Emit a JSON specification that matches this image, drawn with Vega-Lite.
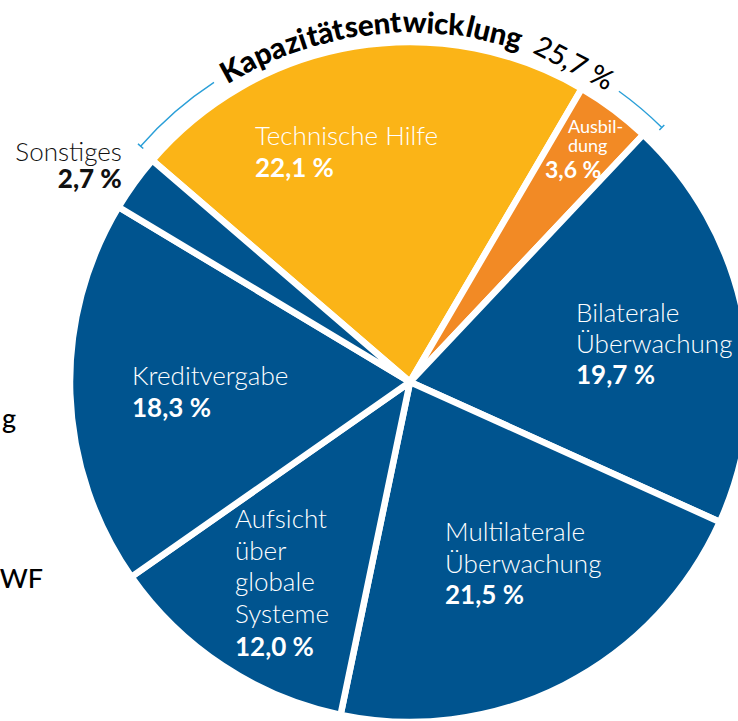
{
  "$schema": "https://vega.github.io/schema/vega-lite/v6.json",
  "width": 820,
  "height": 764,
  "padding": 0,
  "autosize": {"type": "none"},
  "background": "white",
  "config": {"view": {"stroke": null}, "font": "Lato"},
  "layer": [
    {
      "data": {
        "values": [
          {"idx": 1, "name": "Technische Hilfe", "label": "Technische Hilfe", "value": 22.1},
          {"idx": 2, "name": "Ausbildung", "label": "Ausbil-\ndung", "value": 3.6},
          {"idx": 3, "name": "Bilaterale Überwachung", "label": "Bilaterale\nÜberwachung", "value": 19.7},
          {"idx": 4, "name": "Multilaterale Überwachung", "label": "Multilaterale\nÜberwachung", "value": 21.5},
          {"idx": 5, "name": "Aufsicht über globale Systeme", "label": "Aufsicht\nüber\nglobale\nSysteme", "value": 12.0},
          {"idx": 6, "name": "Kreditvergabe", "label": "Kreditvergabe", "value": 18.3},
          {"idx": 7, "name": "Sonstiges", "label": "Sonstiges", "value": 2.7}
        ]
      },
      "transform": [
        {"stack": "value", "groupby": [], "sort": [{"field": "idx", "order": "ascending"}], "as": ["v0", "v1"]},
        {"calculate": "(datum.v0 + datum.v1) / 2", "as": "vmid"},
        {"calculate": "replace(format(datum.value, '.1f'), '.', ',') + ' %'", "as": "pct"}
      ],
      "layer": [
        {
          "mark": {"type": "arc", "radius": 340, "stroke": "white", "strokeWidth": 6.5, "strokeJoin": "round"},
          "encoding": {
            "theta": {"field": "v0", "type": "quantitative", "scale": {"domain": [0, 99.9], "range": [-0.8604, 5.4228]}},
            "theta2": {"field": "v1"},
            "color": {
              "field": "name", "type": "nominal", "legend": null,
              "scale": {
                "domain": ["Technische Hilfe", "Ausbildung", "Bilaterale Überwachung", "Multilaterale Überwachung", "Aufsicht über globale Systeme", "Kreditvergabe", "Sonstiges"],
                "range": ["#fbb417", "#f28a25", "#00548f", "#00548f", "#00548f", "#00548f", "#00548f"]
              }
            }
          }
        },
        {
          "transform": [{"filter": "datum.idx == 1"}],
          "mark": {"type": "text", "radius": 220, "dx": -118.8, "dy": -20, "align": "left", "baseline": "alphabetic", "fontSize": 26, "fontWeight": 300, "color": "white", "lineBreak": "\n", "lineHeight": 31.5},
          "encoding": {"theta": {"field": "vmid", "type": "quantitative", "scale": {"domain": [0, 99.9], "range": [-0.8604, 5.4228]}}, "text": {"field": "label"}}
        },
        {
          "transform": [{"filter": "datum.idx == 1"}],
          "mark": {"type": "text", "radius": 220, "dx": -118.8, "dy": 12, "align": "left", "baseline": "alphabetic", "fontSize": 26, "fontWeight": 700, "color": "white"},
          "encoding": {"theta": {"field": "vmid", "type": "quantitative"}, "text": {"field": "pct"}}
        },
        {
          "transform": [{"filter": "datum.idx == 2"}],
          "mark": {"type": "text", "radius": 260, "dx": 2.1, "dy": -40.9, "align": "left", "baseline": "alphabetic", "fontSize": 18, "fontWeight": 400, "color": "white", "lineBreak": "\n", "lineHeight": 19},
          "encoding": {"theta": {"field": "vmid", "type": "quantitative"}, "text": {"field": "label"}}
        },
        {
          "transform": [{"filter": "datum.idx == 2"}],
          "mark": {"type": "text", "radius": 260, "dx": -20.9, "dy": 4.1, "align": "left", "baseline": "alphabetic", "fontSize": 23, "fontWeight": 700, "color": "white"},
          "encoding": {"theta": {"field": "vmid", "type": "quantitative"}, "text": {"field": "pct"}}
        },
        {
          "transform": [{"filter": "datum.idx == 3"}],
          "mark": {"type": "text", "radius": 220, "dx": -49.8, "dy": -17.3, "align": "left", "baseline": "alphabetic", "fontSize": 26, "fontWeight": 300, "color": "white", "lineBreak": "\n", "lineHeight": 31},
          "encoding": {"theta": {"field": "vmid", "type": "quantitative"}, "text": {"field": "label"}}
        },
        {
          "transform": [{"filter": "datum.idx == 3"}],
          "mark": {"type": "text", "radius": 220, "dx": -49.8, "dy": 44.7, "align": "left", "baseline": "alphabetic", "fontSize": 26, "fontWeight": 700, "color": "white"},
          "encoding": {"theta": {"field": "vmid", "type": "quantitative"}, "text": {"field": "pct"}}
        },
        {
          "transform": [{"filter": "datum.idx == 4"}],
          "mark": {"type": "text", "radius": 220, "dx": -64.7, "dy": -37.1, "align": "left", "baseline": "alphabetic", "fontSize": 26, "fontWeight": 300, "color": "white", "lineBreak": "\n", "lineHeight": 32},
          "encoding": {"theta": {"field": "vmid", "type": "quantitative"}, "text": {"field": "label"}}
        },
        {
          "transform": [{"filter": "datum.idx == 4"}],
          "mark": {"type": "text", "radius": 220, "dx": -64.7, "dy": 25.9, "align": "left", "baseline": "alphabetic", "fontSize": 26, "fontWeight": 700, "color": "white"},
          "encoding": {"theta": {"field": "vmid", "type": "quantitative"}, "text": {"field": "pct"}}
        },
        {
          "transform": [{"filter": "datum.idx == 5"}],
          "mark": {"type": "text", "radius": 220, "dx": -53.9, "dy": -37.7, "align": "left", "baseline": "alphabetic", "fontSize": 26, "fontWeight": 300, "color": "white", "lineBreak": "\n", "lineHeight": 31.7},
          "encoding": {"theta": {"field": "vmid", "type": "quantitative"}, "text": {"field": "label"}}
        },
        {
          "transform": [{"filter": "datum.idx == 5"}],
          "mark": {"type": "text", "radius": 220, "dx": -53.9, "dy": 90.3, "align": "left", "baseline": "alphabetic", "fontSize": 26, "fontWeight": 700, "color": "white"},
          "encoding": {"theta": {"field": "vmid", "type": "quantitative"}, "text": {"field": "pct"}}
        },
        {
          "transform": [{"filter": "datum.idx == 6"}],
          "mark": {"type": "text", "radius": 220, "dx": -58.1, "dy": -4.7, "align": "left", "baseline": "alphabetic", "fontSize": 26, "fontWeight": 300, "color": "white"},
          "encoding": {"theta": {"field": "vmid", "type": "quantitative"}, "text": {"field": "label"}}
        },
        {
          "transform": [{"filter": "datum.idx == 6"}],
          "mark": {"type": "text", "radius": 220, "dx": -58.1, "dy": 27.3, "align": "left", "baseline": "alphabetic", "fontSize": 26, "fontWeight": 700, "color": "white"},
          "encoding": {"theta": {"field": "vmid", "type": "quantitative"}, "text": {"field": "pct"}}
        },
        {
          "transform": [{"filter": "datum.idx == 7"}],
          "mark": {"type": "text", "radius": 360, "dx": 3.7, "dy": -10.1, "align": "right", "baseline": "alphabetic", "fontSize": 26, "fontWeight": 300, "color": "#111111"},
          "encoding": {"theta": {"field": "vmid", "type": "quantitative"}, "text": {"field": "label"}}
        },
        {
          "transform": [{"filter": "datum.idx == 7"}],
          "mark": {"type": "text", "radius": 360, "dx": 3.7, "dy": 16.9, "align": "right", "baseline": "alphabetic", "fontSize": 26, "fontWeight": 900, "color": "#111111"},
          "encoding": {"theta": {"field": "vmid", "type": "quantitative"}, "text": {"field": "pct"}}
        }
      ]
    },
    {
      "data": {"values": [{"part": "links"}]},
      "mark": {"type": "arc", "theta": -0.8517, "theta2": -0.5794, "radius": 358.7, "radius2": 357.3, "color": "#2a9fd8"},
      "encoding": {}
    },
    {
      "data": {"values": [{"part": "links-ende"}]},
      "mark": {"type": "arc", "theta": -0.8538, "theta2": -0.8496, "radius": 361.5, "radius2": 354.5, "color": "#2a9fd8"},
      "encoding": {}
    },
    {
      "data": {"values": [{"part": "rechts"}]},
      "mark": {"type": "arc", "theta": 0.6231, "theta2": 0.7802, "radius": 358.7, "radius2": 357.3, "color": "#2a9fd8"},
      "encoding": {}
    },
    {
      "data": {"values": [{"part": "rechts-ende"}]},
      "mark": {"type": "arc", "theta": 0.7781, "theta2": 0.7823, "radius": 361.5, "radius2": 354.5, "color": "#2a9fd8"},
      "encoding": {}
    },
    {"data": {"values": [{"t": "Ka"}]}, "mark": {"type": "text", "theta": -0.4995, "radius": 349, "angle": -28.62, "align": "center", "baseline": "alphabetic", "fontSize": 29.5, "fontWeight": 900, "color": "#000000"}, "encoding": {"text": {"field": "t"}}},
    {"data": {"values": [{"t": "pa"}]}, "mark": {"type": "text", "theta": -0.4023, "radius": 349, "angle": -23.05, "align": "center", "baseline": "alphabetic", "fontSize": 29.5, "fontWeight": 900, "color": "#000000"}, "encoding": {"text": {"field": "t"}}},
    {"data": {"values": [{"t": "zi"}]}, "mark": {"type": "text", "theta": -0.3239, "radius": 349, "angle": -18.56, "align": "center", "baseline": "alphabetic", "fontSize": 29.5, "fontWeight": 900, "color": "#000000"}, "encoding": {"text": {"field": "t"}}},
    {"data": {"values": [{"t": "tät"}]}, "mark": {"type": "text", "theta": -0.2384, "radius": 349, "angle": -13.66, "align": "center", "baseline": "alphabetic", "fontSize": 29.5, "fontWeight": 900, "color": "#000000"}, "encoding": {"text": {"field": "t"}}},
    {"data": {"values": [{"t": "sent"}]}, "mark": {"type": "text", "theta": -0.1037, "radius": 349, "angle": -5.94, "align": "center", "baseline": "alphabetic", "fontSize": 29.5, "fontWeight": 900, "color": "#000000"}, "encoding": {"text": {"field": "t"}}},
    {"data": {"values": [{"t": "wick"}]}, "mark": {"type": "text", "theta": 0.0658, "radius": 349, "angle": 3.77, "align": "center", "baseline": "alphabetic", "fontSize": 29.5, "fontWeight": 900, "color": "#000000"}, "encoding": {"text": {"field": "t"}}},
    {"data": {"values": [{"t": "lung"}]}, "mark": {"type": "text", "theta": 0.2370, "radius": 349, "angle": 13.58, "align": "center", "baseline": "alphabetic", "fontSize": 29.5, "fontWeight": 900, "color": "#000000"}, "encoding": {"text": {"field": "t"}}},
    {"data": {"values": [{"t": "25,7 %"}]}, "mark": {"type": "text", "theta": 0.4747, "radius": 349, "angle": 27.2, "align": "center", "baseline": "alphabetic", "fontSize": 28, "fontWeight": 500, "color": "#000000"}, "encoding": {"text": {"field": "t"}}},
    {"data": {"values": [{"t": "g"}]}, "mark": {"type": "text", "theta": -1.5708, "radius": 394, "dy": 46, "align": "right", "baseline": "alphabetic", "fontSize": 27, "fontWeight": 500, "color": "#000000"}, "encoding": {"text": {"field": "t"}}},
    {"data": {"values": [{"t": "WF"}]}, "mark": {"type": "text", "theta": -1.5708, "radius": 367, "dy": 206, "align": "right", "baseline": "alphabetic", "fontSize": 27, "fontWeight": 500, "color": "#000000"}, "encoding": {"text": {"field": "t"}}}
  ]
}
